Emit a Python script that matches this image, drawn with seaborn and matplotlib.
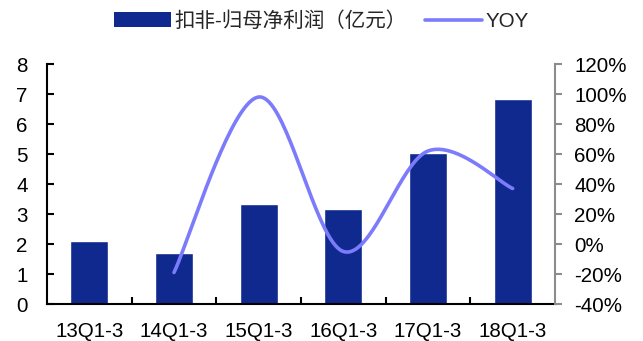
import numpy as np
import seaborn as sns
import matplotlib
matplotlib.use("Agg")
import matplotlib.pyplot as plt
from matplotlib.lines import Line2D
from matplotlib.patches import Patch
from matplotlib.ticker import FuncFormatter, MultipleLocator, FixedLocator

# Deducted net profit attributable to parent (100M CNY) and its YoY growth
periods = ["13Q1-3", "14Q1-3", "15Q1-3", "16Q1-3", "17Q1-3", "18Q1-3"]
profit = [2.1, 1.7, 3.35, 3.17, 5.04, 6.84]
yoy_periods = ["14Q1-3", "15Q1-3", "16Q1-3", "17Q1-3", "18Q1-3"]
yoy = [-19, 98, -5, 62, 37]

bar_label = "扣非-归母净利润（亿元）"
line_label = "YOY"
bar_color = "#0f298f"
line_color = "#7b7bfb"

sns.set_theme(style="white")
plt.rcParams["font.family"] = ["Liberation Sans", "Noto Sans CJK SC"]
FS = 14.8


def smooth_curve(x, y, n=40):
    """Catmull-Rom smoothing through the given points (display only)."""
    pts = np.column_stack([x, y]).astype(float)
    P = np.vstack([pts[0], pts, pts[-1]])
    out = []
    t = np.linspace(0, 1, n, endpoint=False)[:, None]
    for i in range(1, len(P) - 2):
        p0, p1, p2, p3 = P[i - 1], P[i], P[i + 1], P[i + 2]
        seg = 0.5 * ((2 * p1) + (-p0 + p2) * t
                     + (2 * p0 - 5 * p1 + 4 * p2 - p3) * t ** 2
                     + (-p0 + 3 * p1 - 3 * p2 + p3) * t ** 3)
        out.append(seg)
    out.append(P[-2][None, :])
    return np.vstack(out)


fig = plt.figure(figsize=(6.43, 3.41), dpi=100)
ax = fig.add_axes([47 / 643, 1 - 304 / 341, (555 - 47) / 643, (304 - 64) / 341])

sns.barplot(x=periods, y=profit, ax=ax, color=bar_color, saturation=1,
            width=0.45, zorder=2)
ax.set_xlim(-0.5, len(periods) - 0.5)
ax.set_ylim(0, 8)
ax.yaxis.set_major_locator(MultipleLocator(1))
ax.set_xlabel("")
ax.set_ylabel("")

# x tick marks sit between categories, labels under the bars
ax.xaxis.set_minor_locator(FixedLocator(np.arange(0.5, len(periods) - 0.5, 1)))
ax.tick_params(axis="x", which="major", length=0, pad=13, labelsize=FS,
               colors="black")
ax.tick_params(axis="x", which="minor", direction="in", length=5, width=1.5,
               color="black", bottom=True)
ax.tick_params(axis="y", direction="in", length=5, width=1.5, pad=14,
               labelsize=FS, colors="black", left=True)
for side in ["top", "right"]:
    ax.spines[side].set_visible(False)
for side in ["left", "bottom"]:
    ax.spines[side].set_color("black")
    ax.spines[side].set_linewidth(1.5)

ax2 = ax.twinx()
xpos = [periods.index(p) for p in yoy_periods]
curve = smooth_curve(xpos, yoy)
sns.lineplot(x=curve[:, 0], y=curve[:, 1], ax=ax2, sort=False, estimator=None,
             color=line_color, linewidth=2.6, solid_capstyle="round")
ax2.set_ylim(-40, 120)
ax2.yaxis.set_major_locator(MultipleLocator(20))
ax2.yaxis.set_major_formatter(FuncFormatter(lambda v, _: f"{v:.0f}%"))
ax2.tick_params(axis="y", direction="out", length=5, width=1.5, pad=9,
                labelsize=FS, color="#8c8c8c", labelcolor="black", right=True)
for side in ["top", "left", "bottom"]:
    ax2.spines[side].set_visible(False)
ax2.spines["right"].set_color("#8c8c8c")
ax2.spines["right"].set_linewidth(1.5)
ax2.set_xlim(-0.5, len(periods) - 0.5)

handles = [Patch(facecolor=bar_color, edgecolor="none"),
           Line2D([0], [0], color=line_color, linewidth=2.6)]
fig.legend(handles, [bar_label, line_label], loc="center left",
           bbox_to_anchor=(114 / 643, 1 - 21 / 341), ncol=2, frameon=False,
           fontsize=FS, handlelength=2.75, handleheight=0.7,
           handletextpad=0.2, columnspacing=0.9, borderpad=0,
           borderaxespad=0)

fig.savefig("out.png", dpi=100)
